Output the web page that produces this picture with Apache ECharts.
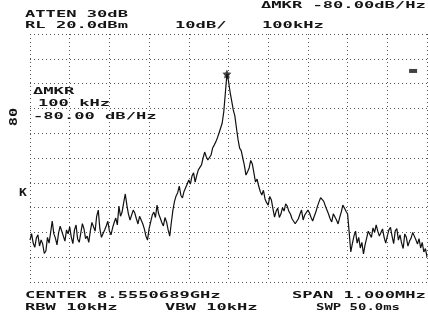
<!DOCTYPE html>
<html>
<head>
<meta charset="utf-8">
<script src="https://cdn.jsdelivr.net/npm/echarts@6/dist/echarts.min.js"></script>
<style>html,body{margin:0;padding:0;background:#fff}#c{width:428px;height:324px}</style>
</head>
<body>
<div id="c"></div>
<script>
// Frequency offsets from centre (kHz) and trace level (dBm)
const freqStartKHz = -500;
const freqStepKHz = 4;
const traceDb = [
-63.1,-60.5,-64.3,-66.0,-62.3,-61.0,-65.5,-63.0,-64.7,-68.5,
-67.5,-62.0,-64.3,-60.0,-55.4,-60.5,-62.3,-65.0,-60.2,-57.5,
-58.2,-61.5,-63.5,-59.0,-60.6,-57.8,-61.9,-64.5,-59.0,-57.0,
-62.7,-64.0,-60.2,-56.5,-58.6,-62.5,-61.5,-64.0,-59.4,-56.0,
-56.6,-59.5,-53.4,-51.0,-58.6,-62.0,-61.5,-59.0,-57.4,-55.5,
-59.4,-61.0,-58.2,-56.0,-54.2,-57.0,-49.4,-53.5,-51.8,-48.0,
-44.5,-49.0,-52.6,-55.0,-55.4,-51.0,-52.2,-54.5,-56.6,-53.5,
-54.2,-56.5,-58.6,-61.5,-63.1,-58.5,-55.8,-53.0,-51.8,-54.0,
-49.0,-52.5,-54.2,-56.0,-57.4,-54.0,-55.8,-59.0,-61.5,-56.0,
-51.0,-47.5,-45.3,-44.0,-41.3,-45.0,-46.1,-43.5,-42.9,-40.5,
-38.9,-40.5,-37.3,-36.0,-39.7,-37.0,-34.8,-35.5,-32.8,-30.0,
-27.6,-29.5,-30.8,-31.5,-28.8,-26.0,-24.8,-23.5,-21.9,-20.0,
-19.5,-16.0,-11.5,-4.0,3.9,1.0,-3.4,-7.0,-10.6,-13.0,
-17.9,-22.5,-26.0,-27.0,-30.0,-33.0,-36.9,-35.5,-34.0,-31.0,
-32.4,-36.0,-39.7,-38.5,-41.3,-43.5,-44.9,-43.0,-46.5,-48.0,
-49.0,-45.5,-46.9,-50.5,-53.8,-51.5,-50.2,-54.0,-52.6,-50.0,
-51.4,-48.5,-49.4,-51.5,-52.6,-54.5,-54.6,-56.5,-57.0,-54.5,
-52.6,-51.0,-55.0,-53.0,-53.8,-51.0,-52.2,-54.0,-55.4,-53.5,
-51.8,-49.5,-47.7,-46.0,-45.7,-47.5,-49.4,-51.0,-52.6,-54.5,
-55.8,-52.5,-53.0,-55.0,-56.6,-54.0,-51.8,-49.0,-50.2,-51.5,
-52.6,-60.0,-67.9,-64.5,-61.5,-59.5,-64.3,-62.0,-66.3,-64.0,
-68.7,-65.0,-62.3,-59.5,-60.2,-62.0,-58.2,-60.0,-57.0,-59.5,
-61.5,-60.0,-58.6,-62.0,-64.3,-61.5,-59.0,-58.0,-61.5,-64.5,
-59.4,-58.5,-63.1,-61.0,-64.3,-66.5,-60.6,-62.0,-65.5,-63.5,
-62.3,-60.0,-61.5,-63.0,-64.7,-62.5,-66.3,-64.0,-67.9,-66.5,
-69.9
];
const peakMarker = [-4, 3.9];
const refMarker = [465, 5.1];
const xMin = -500, xMax = 500, xInterval = 100;
const yMin = -80, yMax = 20, yInterval = 10;

const headerTexts = ['ATTEN 30dB','RL 20.0dBm','10dB/','\u0394MKR -80.00dB/Hz','100kHz'];
const innerTexts = ['\u0394MKR','100 kHz','-80.00 dB/Hz'];
const footerTexts = ['CENTER 8.5550689GHz','RBW 10kHz','VBW 10kHz','SPAN 1.000MHz','SWP 50.0ms'];
const sideTexts = ['80','K'];

const traceData = traceDb.map((v,i)=>[freqStartKHz + i*freqStepKHz, v]);

const FONT = 'bold 9px "DejaVu Sans Mono"';
const SX = 1.9;
function txt(t, x, y, sx, font){
  return {type:'text', x:x, y:y, scaleX: sx||SX, z:10,
    style:{text:t, fill:'#151515', font:font||FONT, textVerticalAlign:'middle', verticalAlign:'middle', textAlign:'left', align:'left'}};
}

const chart = echarts.init(document.getElementById('c'), null, {renderer:'canvas'});
chart.setOption({
  backgroundColor:'#fff',
  animation:false,
  grid:{left:30, top:34, width:397, height:248, containLabel:false},
  xAxis:{type:'value', min:xMin, max:xMax, interval:xInterval,
    axisLine:{show:false}, axisTick:{show:false}, axisLabel:{show:false},
    splitLine:{show:true, lineStyle:{color:'#555', width:1, type:[1,3]}}},
  yAxis:{type:'value', min:yMin, max:yMax, interval:yInterval,
    axisLine:{show:false}, axisTick:{show:false}, axisLabel:{show:false},
    splitLine:{show:true, lineStyle:{color:'#555', width:1, type:[1,3]}}},
  series:[
    {type:'line', data:traceData, showSymbol:false, symbol:'none',
     lineStyle:{color:'#111', width:1.2}, z:3},
    {type:'scatter', data:[peakMarker], symbol:'path://M0,-10 L2.9,-4 L9.5,-3.1 L4.7,1.5 L5.9,8.1 L0,5 L-5.9,8.1 L-4.7,1.5 L-9.5,-3.1 L-2.9,-4 Z',
     symbolSize:9, itemStyle:{color:'#111'}, z:4},
    {type:'scatter', data:[refMarker], symbol:'rect', symbolSize:[8,4], itemStyle:{color:'#111'}, z:4}
  ],
  graphic:[
    txt(headerTexts[0], 25, 15),
    txt(headerTexts[1], 25, 26),
    txt(headerTexts[2], 175, 26),
    txt(headerTexts[3], 261, 6),
    txt(headerTexts[4], 262, 26),
    txt(innerTexts[0], 33, 92),
    txt(innerTexts[1], 38, 104),
    txt(innerTexts[2], 33, 117),
    txt(footerTexts[0], 25, 296),
    txt(footerTexts[1], 25, 308),
    txt(footerTexts[2], 165, 308),
    txt(footerTexts[3], 292, 296),
    txt(footerTexts[4], 316, 308, 1.55),
    {type:'text', x:14, y:117, rotation:Math.PI/2, scaleX:1.4, z:10,
     style:{text:sideTexts[0], fill:'#151515', font:'bold 11px "DejaVu Sans Mono"', textAlign:'center', align:'center', textVerticalAlign:'middle', verticalAlign:'middle'}},
    txt(sideTexts[1], 19, 193, 1.3, 'bold 10px "DejaVu Sans Mono"')
  ]
});
</script>
</body>
</html>
